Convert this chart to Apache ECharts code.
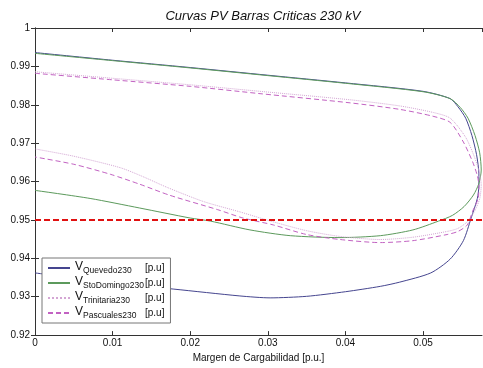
<!DOCTYPE html>
<html>
<head>
<meta charset="utf-8">
<script src="https://cdn.jsdelivr.net/npm/echarts@6/dist/echarts.min.js"></script>
<style>
  html, body { margin: 0; padding: 0; background: #fff; }
  #chart { width: 483px; height: 368px; }
</style>
</head>
<body>
<div id="chart"></div>
<script>
// Curvas PV - barras criticas 230 kV (rama superior -> nariz -> rama inferior)
const quevedo = [
    [0, 0.9936], [0.01, 0.9916], [0.02, 0.9897], [0.03, 0.9877], [0.04, 0.9857],
    [0.05, 0.9835], [0.0535, 0.9816], [0.0545, 0.9795], [0.0555, 0.9765],
    [0.0563, 0.972], [0.0569, 0.967], [0.0572, 0.962], [0.0572, 0.959],
    [0.057, 0.9556], [0.0562, 0.9505], [0.0552, 0.9446], [0.0535, 0.9398],
    [0.051, 0.9362], [0.047, 0.9338], [0.0445, 0.9327], [0.04, 0.9313],
    [0.035, 0.9301], [0.0303, 0.9297], [0.0264, 0.9302], [0.0178, 0.932],
    [0.01, 0.9336], [0, 0.9362]
];
const stoDomingo = [
    [0, 0.9934], [0.01, 0.9915], [0.02, 0.9896], [0.03, 0.9876], [0.04, 0.9856],
    [0.05, 0.9834], [0.0535, 0.9816], [0.0548, 0.9793], [0.0558, 0.9765],
    [0.0567, 0.972], [0.0573, 0.9675], [0.0575, 0.963], [0.0572, 0.9595],
    [0.0565, 0.9565], [0.0553, 0.9535], [0.0538, 0.9512], [0.052, 0.9497],
    [0.0487, 0.9474], [0.0445, 0.9459], [0.0393, 0.9454], [0.0329, 0.9459],
    [0.0277, 0.9474], [0.0226, 0.9497], [0.02, 0.9505], [0.0135, 0.9531],
    [0.0071, 0.9556], [0, 0.9577]
];
const trinitaria = [
    [0, 0.9886], [0.01, 0.9869], [0.02, 0.9852], [0.029, 0.9835], [0.0406, 0.9813],
    [0.047, 0.9797], [0.0513, 0.978], [0.0535, 0.9765], [0.0555, 0.9715],
    [0.0567, 0.966], [0.0573, 0.962], [0.0575, 0.959], [0.0573, 0.9555],
    [0.0567, 0.9525], [0.0558, 0.9497], [0.0545, 0.9478], [0.0531, 0.947],
    [0.0487, 0.9455], [0.0445, 0.9449], [0.0393, 0.9457], [0.035, 0.9472],
    [0.0307, 0.9495], [0.0264, 0.9521], [0.0217, 0.9548], [0.017, 0.9585],
    [0.014, 0.9612], [0.011, 0.9636], [0.005, 0.9666], [0, 0.9685]
];
const pascuales = [
    [0, 0.9882], [0.01, 0.9865], [0.02, 0.9848], [0.029, 0.9829], [0.0406, 0.9805],
    [0.047, 0.9788], [0.0513, 0.977], [0.0535, 0.9754], [0.0552, 0.9703],
    [0.0564, 0.9651], [0.057, 0.9615], [0.0572, 0.959], [0.0571, 0.9556],
    [0.0564, 0.9523], [0.0557, 0.9487], [0.0545, 0.947], [0.0531, 0.9462],
    [0.0487, 0.9446], [0.0445, 0.9441], [0.0393, 0.9449], [0.035, 0.9462],
    [0.0307, 0.9487], [0.0268, 0.9505], [0.0235, 0.9527], [0.0174, 0.9564],
    [0.0135, 0.9593], [0.0097, 0.9619], [0.005, 0.9645], [0, 0.9664]
];
const limite = [[0, 0.95], [0.0576, 0.95]];

const names = ['Quevedo230', 'StoDomingo230', 'Trinitaria230', 'Pascuales230'];
const xMax = 0.0576;

const chart = echarts.init(document.getElementById('chart'));
const font = 'Liberation Sans, Arial, sans-serif';

function curve(name, data, color, type) {
    return {
        name: name,
        type: 'line',
        data: data,
        symbol: 'none',
        smooth: 0.25,
        lineStyle: { color: color, width: 1, type: type },
        itemStyle: { color: color },
        z: 3
    };
}

const axisCommon = {
    axisLine: { show: true, lineStyle: { color: '#333', width: 1 } },
    axisTick: { show: true, inside: true, length: 4, lineStyle: { color: '#333' } },
    splitLine: { show: false }
};

const option = {
    animation: false,
    backgroundColor: '#fff',
    textStyle: { fontFamily: font },
    title: {
        text: 'Curvas PV Barras Criticas 230 kV',
        left: 258,
        top: 5,
        textAlign: 'center',
        textStyle: { fontSize: 13, fontStyle: 'italic', fontWeight: 'normal', color: '#111', fontFamily: font }
    },
    grid: { left: 35, right: 1, top: 28, bottom: 29, containLabel: false },
    legend: {
        orient: 'vertical',
        left: 42,
        top: 258,
        data: names,
        itemWidth: 22,
        itemHeight: 10,
        itemGap: 1,
        padding: [3, 6, 3, 5],
        borderColor: '#777',
        borderWidth: 1,
        backgroundColor: '#fff',
        itemStyle: { opacity: 0 },
        formatter: n => `{v|V}{s|${n}}{u|[p.u]}`,
        textStyle: {
            color: '#111',
            rich: {
                v: { fontSize: 12, fontFamily: font, verticalAlign: 'top', lineHeight: 14 },
                s: { fontSize: 8.5, fontFamily: font, width: 62, verticalAlign: 'bottom', lineHeight: 14, padding: [4, 0, 0, 0] },
                u: { fontSize: 10, fontFamily: font, lineHeight: 14 }
            }
        }
    },
    xAxis: [
        Object.assign({
            type: 'value', min: 0, max: xMax, interval: 0.01,
            name: 'Margen de Cargabilidad [p.u.]',
            nameLocation: 'middle', nameGap: 16,
            nameTextStyle: { fontSize: 10, color: '#111', fontFamily: font },
            axisLabel: {
                fontSize: 10, color: '#111', margin: 3, showMaxLabel: false,
                formatter: v => (v === 0 ? '0' : v.toFixed(2))
            }
        }, axisCommon),
        Object.assign({
            type: 'value', min: 0, max: xMax, interval: 0.01, position: 'top',
            axisLabel: { show: false }
        }, axisCommon)
    ],
    yAxis: [
        Object.assign({
            type: 'value', min: 0.92, max: 1, interval: 0.01,
            axisLabel: {
                fontSize: 10, color: '#111', margin: 5,
                formatter: v => (Math.abs(v - 1) < 1e-9 ? '1' : v.toFixed(2))
            }
        }, axisCommon),
        Object.assign({
            type: 'value', min: 0.92, max: 1, interval: 0.01, position: 'right',
            axisLabel: { show: false }
        }, axisCommon)
    ],
    series: [
        curve(names[0], quevedo, '#45458f', 'solid'),
        curve(names[1], stoDomingo, '#5c9a5c', 'solid'),
        curve(names[2], trinitaria, '#d4a6d4', 'dotted'),
        curve(names[3], pascuales, '#c262c2', [5, 3]),
        {
            name: 'limite',
            type: 'line',
            data: limite,
            symbol: 'none',
            lineStyle: { color: '#e01010', width: 2, type: [6, 3] },
            z: 4
        }
    ]
};

chart.setOption(option);
</script>
</body>
</html>
